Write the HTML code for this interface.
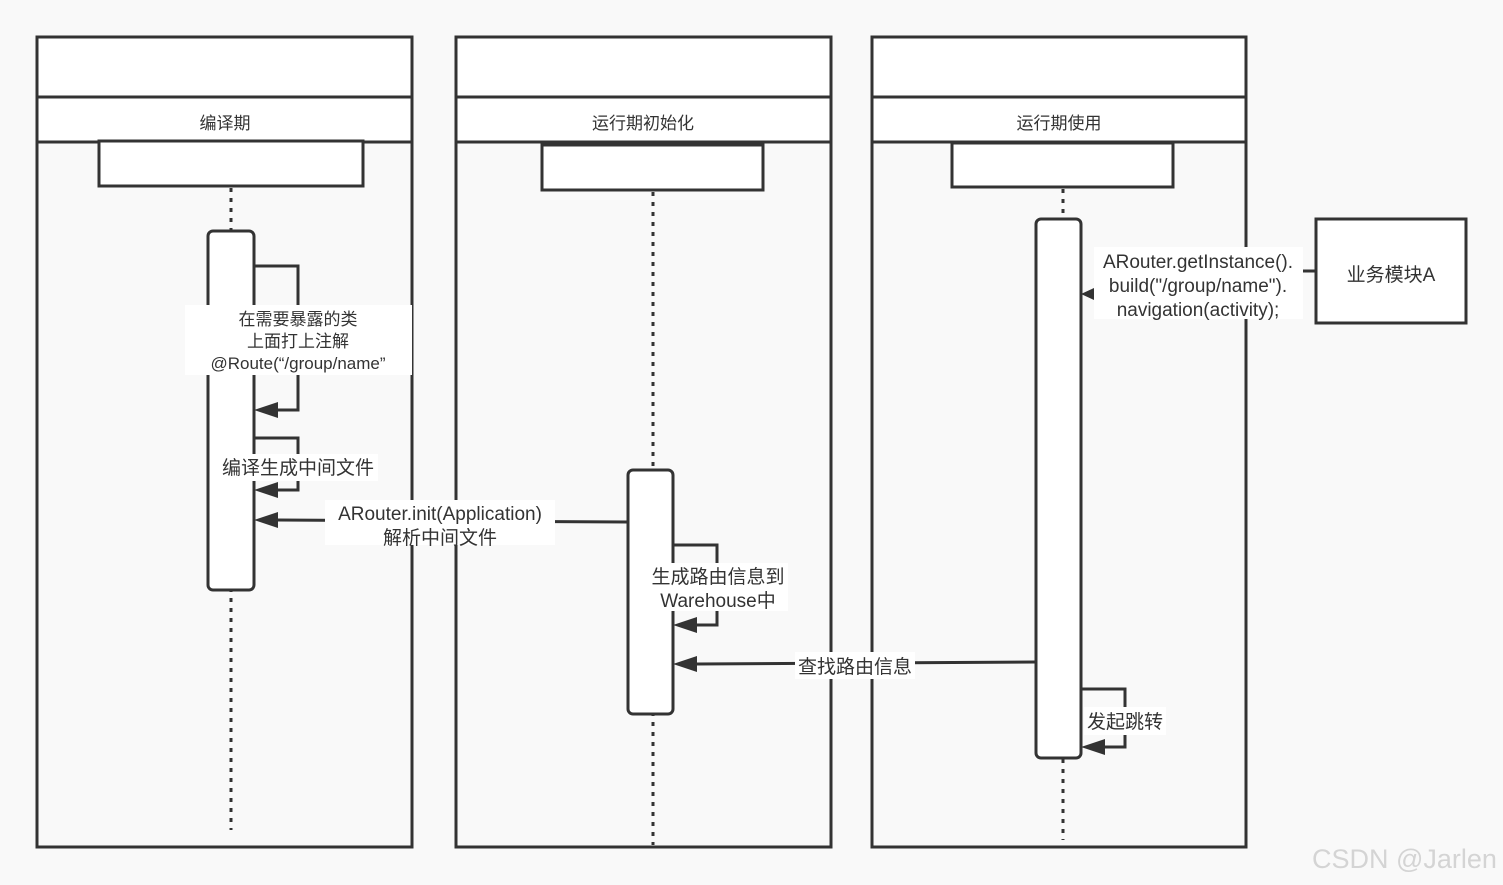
<!DOCTYPE html>
<html><head><meta charset="utf-8"><style>
html,body{margin:0;padding:0;background:#f9f9f9;}
svg{display:block;}
text{font-family:"Liberation Sans","Noto Sans CJK SC",sans-serif;fill:#333;}
</style></head><body>
<svg width="1503" height="885" viewBox="0 0 1503 885" xmlns="http://www.w3.org/2000/svg">
<defs>
<marker id="a" viewBox="0 0 10 10" refX="9" refY="5" markerWidth="8" markerHeight="8" markerUnits="userSpaceOnUse" orient="auto"><path d="M0,0 L10,5 L0,10z" fill="#333"/></marker>
<marker id="b" viewBox="0 0 24 16" refX="0" refY="8" markerWidth="24" markerHeight="16" markerUnits="userSpaceOnUse" orient="auto"><path d="M0,8 L24,0 L24,16z" fill="#333"/></marker>
</defs>
<rect width="1503" height="885" fill="#f9f9f9"/>
<g stroke="#333" stroke-width="3" fill="none">
<!-- lanes -->
<rect x="37" y="37" width="375" height="810"/>
<rect x="37" y="37" width="375" height="60" fill="#fff"/>
<rect x="37" y="97" width="375" height="45" fill="#fff"/>
<rect x="456" y="37" width="375" height="810"/>
<rect x="456" y="37" width="375" height="60" fill="#fff"/>
<rect x="456" y="97" width="375" height="45" fill="#fff"/>
<rect x="872" y="37" width="374" height="810"/>
<rect x="872" y="37" width="374" height="60" fill="#fff"/>
<rect x="872" y="97" width="374" height="45" fill="#fff"/>
<!-- inner boxes -->
<rect x="99" y="141" width="264" height="45" fill="#fff"/>
<rect x="542" y="145" width="221" height="45" fill="#fff"/>
<rect x="952" y="143" width="221" height="44" fill="#fff"/>
<!-- lifelines -->
<g stroke-dasharray="4,6">
<line x1="231" y1="188" x2="231" y2="830"/>
<line x1="653" y1="192" x2="653" y2="845"/>
<line x1="1063" y1="189" x2="1063" y2="840"/>
</g>
<!-- activations -->
<rect x="208" y="231" width="46" height="359" rx="5" fill="#fff"/>
<rect x="628" y="470" width="45" height="244" rx="5" fill="#fff"/>
<rect x="1036" y="219" width="45" height="539" rx="5" fill="#fff"/>
<!-- business box -->
<rect x="1316" y="219" width="150" height="104" fill="#fff"/>
<!-- loops -->
<polyline points="254,266 298,266 298,410 278,410"/>
<polyline points="254,438 298,438 298,490 278,490"/>
<polyline points="673,545 717,545 717,625 697,625"/>
<polyline points="1081,689 1125,689 1125,747 1105,747"/>
<!-- messages -->
<polyline points="628,522 278,520"/>
<polyline points="1036,662 697,664"/>
<polyline points="1316,271 1300,271"/>
<line x1="1094" y1="294" x2="1105" y2="294"/>
</g>
<g fill="#333">
<path d="M254,410 L278,402 L278,418z"/>
<path d="M254,490 L278,482 L278,498z"/>
<path d="M254,520 L278,512 L278,528z"/>
<path d="M673,625 L697,617 L697,633z"/>
<path d="M673,664 L697,656 L697,672z"/>
<path d="M1081,747 L1105,739 L1105,755z"/>
<path d="M1081,294 L1094,288 L1094,300z"/>
</g>
<!-- label backgrounds -->
<g fill="#fff">
<rect x="185" y="305" width="227" height="70"/>
<rect x="218" y="454" width="160" height="27"/>
<rect x="325" y="500" width="230" height="45"/>
<rect x="648" y="563" width="140" height="48"/>
<rect x="795" y="652" width="120" height="27"/>
<rect x="1084" y="707" width="82" height="28"/>
<rect x="1094" y="247" width="209" height="72"/>
</g>
<g font-size="17" text-anchor="middle">
<text x="225" y="129">编译期</text>
<text x="643" y="129">运行期初始化</text>
<text x="1059" y="129">运行期使用</text>
<text x="298" y="325">在需要暴露的类</text>
<text x="298" y="347">上面打上注解</text>
<text x="298" y="369">@Route(“/group/name”</text>
<text x="298" y="474" font-size="19">编译生成中间文件</text>
<text x="440" y="520" font-size="19">ARouter.init(Application)</text>
<text x="440" y="544" font-size="19">解析中间文件</text>
<text x="718" y="583" font-size="19">生成路由信息到</text>
<text x="718" y="607" font-size="19">Warehouse中</text>
<text x="855" y="673" font-size="19">查找路由信息</text>
<text x="1125" y="728" font-size="19">发起跳转</text>
<text x="1198" y="268" font-size="19">ARouter.getInstance().</text>
<text x="1198" y="292" font-size="19">build("/group/name").</text>
<text x="1198" y="316" font-size="19">navigation(activity);</text>
<text x="1391" y="281" font-size="19">业务模块A</text>
</g>
<text x="1312" y="868" font-size="27" fill="#d8d8d8" style="fill:#d4d4d4">CSDN @Jarlen</text>
</svg>
</body></html>
